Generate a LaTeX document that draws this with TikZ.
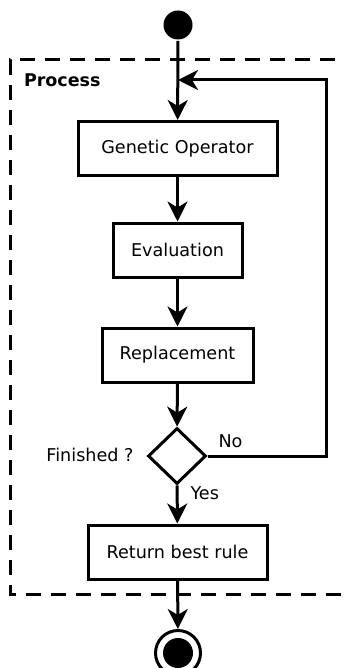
\documentclass[tikz,border=0pt]{standalone}
\usepackage{fontspec}
\setmainfont{DejaVu Sans}
\usetikzlibrary{arrows.meta,shapes.geometric}
\begin{document}
\begin{tikzpicture}[x=1pt,y=-1pt,
  line width=3pt,
  arr/.style={-{Stealth[length=20pt,width=20pt,inset=6pt]}},
  stepbox/.style={draw,rectangle,minimum height=54pt,inner sep=0pt,font=\fontsize{17.6}{20}\selectfont},
  lbl/.style={inner sep=0pt,font=\fontsize{17.6}{20}\selectfont},
  decision/.style={draw,diamond,minimum width=58pt,minimum height=56pt,inner sep=0pt},
  frame/.style={dash pattern=on 15pt off 10pt,line width=3pt}]
\useasboundingbox (0,0) rectangle (344,668);
\clip (0,0) rectangle (344,668);

% activity frame
\draw[frame] (360,60) -- (10,60) -- (10,594) -- (360,594);
\node[anchor=west,inner sep=0pt,font=\fontsize{17.5}{20}\selectfont\bfseries] (proc) at (22.5,80) {Process};

% initial and final states
\node[circle,fill,minimum size=29pt,inner sep=0pt] (start) at (178,25) {};
\node[circle,draw,minimum size=45pt,inner sep=0pt,line width=3pt] (finish) at (178,653) {};
\node[circle,fill,minimum size=30pt,inner sep=0pt] (finishdot) at (178,653) {};

% activities
\node[stepbox,minimum width=199pt] (gen) at (177.5,148.5) {Genetic Operator};
\node[stepbox,minimum width=129pt] (eval) at (177.5,250) {Evaluation};
\node[stepbox,minimum width=151pt] (repl) at (177.5,355) {Replacement};
\node[decision] (dec) at (177,456) {};
\node[stepbox,minimum width=179pt] (ret) at (177.5,552) {Return best rule};

% labels
\node[lbl,anchor=east] (fin) at (135,455) {Finished ?};
\node[lbl,anchor=west] (no) at (217,441) {No};
\node[lbl,anchor=west] (yes) at (189,493) {Yes};

% flow
\coordinate (merge) at (178,80);
\coordinate (back) at (326,80);
\draw[arr] (start) -- (gen);
\draw[arr] (gen) -- (eval);
\draw[arr] (eval) -- (repl);
\draw[arr] (repl) -- (dec);
\draw[arr] (dec) -- (ret);
\draw[arr] (dec.east) -| (back) -- (merge);
\draw[arr] (ret) -- (finish);
\end{tikzpicture}
\end{document}
